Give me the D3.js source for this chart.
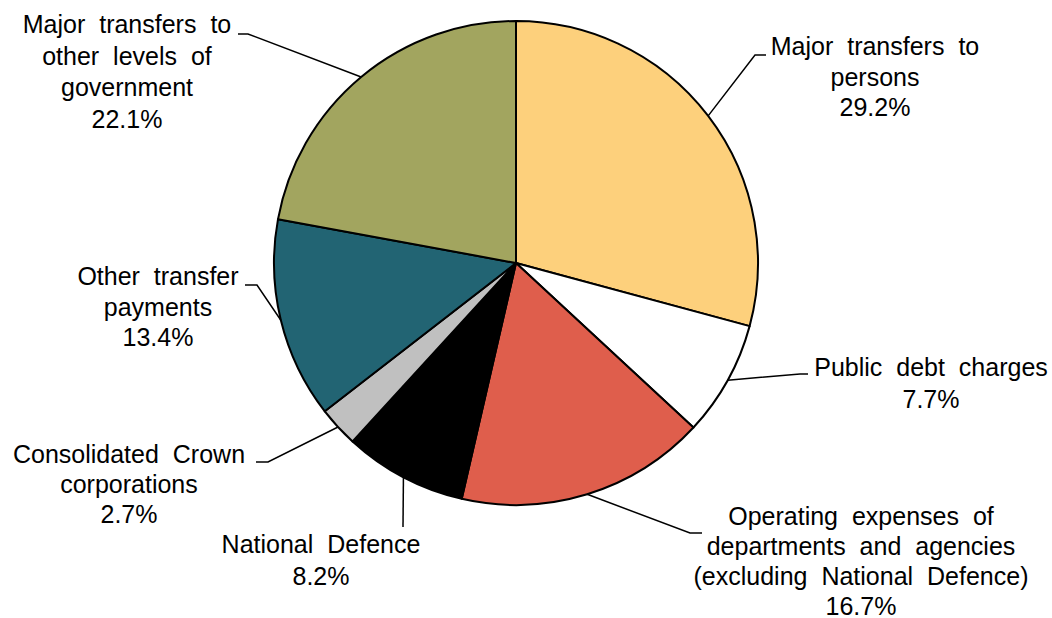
<!DOCTYPE html>
<html>
<head>
<meta charset="utf-8">
<script src="https://cdn.jsdelivr.net/npm/d3@7"></script>
<style>
  html, body { margin: 0; padding: 0; background: #fff; }
  svg text { font-family: "Liberation Sans", Arial, sans-serif; font-size: 25px; fill: #000; word-spacing: 7px; }
</style>
</head>
<body>
<svg id="chart" width="1052" height="618"></svg>
<script>
// Slices, clockwise from 12 o'clock
const categories = [
  "Major transfers to persons",
  "Public debt charges",
  "Operating expenses of departments and agencies (excluding National Defence)",
  "National Defence",
  "Consolidated Crown corporations",
  "Other transfer payments",
  "Major transfers to other levels of government"
];
const shares = [29.2, 7.7, 16.7, 8.2, 2.7, 13.4, 22.1];
const colors = ["#FDD07C", "#FFFFFF", "#DF5E4C", "#000000", "#C0C0C0", "#226473", "#A2A55F"];

// Label text, one entry per line
const labelLines = [
  ["Major transfers to", "persons"],
  ["Public debt charges"],
  ["Operating expenses of", "departments and agencies", "(excluding National Defence)"],
  ["National Defence"],
  ["Consolidated Crown", "corporations"],
  ["Other transfer", "payments"],
  ["Major transfers to", "other levels of", "government"]
];

// Label layout: text centre x, first baseline, line gap, elbow and end of leader line
const labelLayout = [
  { cx: 875, y: 55,  gap: 30.5, elbow: [755, 55],  end: [766, 55] },
  { cx: 931, y: 376, gap: 32,   elbow: [800, 374], end: [808, 374] },
  { cx: 861, y: 525, gap: 30,   elbow: [690, 533], end: [702, 533] },
  { cx: 321, y: 553, gap: 32,   elbow: [403, 527], end: [403, 527] },
  { cx: 129, y: 463, gap: 30,   elbow: [268, 462], end: [256, 462] },
  { cx: 158, y: 285, gap: 30.5, elbow: [257, 285], end: [245, 285] },
  { cx: 127, y: 33,  gap: 31.5, elbow: [248, 34],  end: [238, 34] }
];

const cx = 516, cy = 263, radius = 242;

const svg = d3.select("#chart");
const g = svg.append("g").attr("transform", `translate(${cx},${cy})`);

const data = categories.map((c, i) => ({ name: c, value: shares[i], color: colors[i], lines: labelLines[i], layout: labelLayout[i] }));

const pie = d3.pie().value(d => d.value).sort(null);
const arc = d3.arc().innerRadius(0).outerRadius(radius);
const arcs = pie(data);

g.selectAll("path.slice")
  .data(arcs)
  .join("path")
  .attr("class", "slice")
  .attr("d", arc)
  .attr("fill", d => d.data.color)
  .attr("stroke", "#000")
  .attr("stroke-width", 2)
  .attr("stroke-linejoin", "round");

// Leader lines start on the rim at the slice's middle angle
const rimPoint = d => {
  const a = (d.startAngle + d.endAngle) / 2;
  return [cx + radius * Math.sin(a), cy - radius * Math.cos(a)];
};

svg.selectAll("polyline.leader")
  .data(arcs)
  .join("polyline")
  .attr("class", "leader")
  .attr("points", d => [rimPoint(d), d.data.layout.elbow, d.data.layout.end].map(p => p.join(",")).join(" "))
  .attr("fill", "none")
  .attr("stroke", "#000")
  .attr("stroke-width", 1.5);

const labels = svg.selectAll("text.label")
  .data(arcs)
  .join("text")
  .attr("class", "label")
  .attr("text-anchor", "middle");

labels.each(function(d) {
  const t = d3.select(this);
  const rows = d.data.lines.concat([d.data.value.toFixed(1) + "%"]);
  rows.forEach((r, i) => {
    t.append("tspan")
      .attr("x", d.data.layout.cx)
      .attr("y", d.data.layout.y + i * d.data.layout.gap)
      .text(r);
  });
});
</script>
</body>
</html>
